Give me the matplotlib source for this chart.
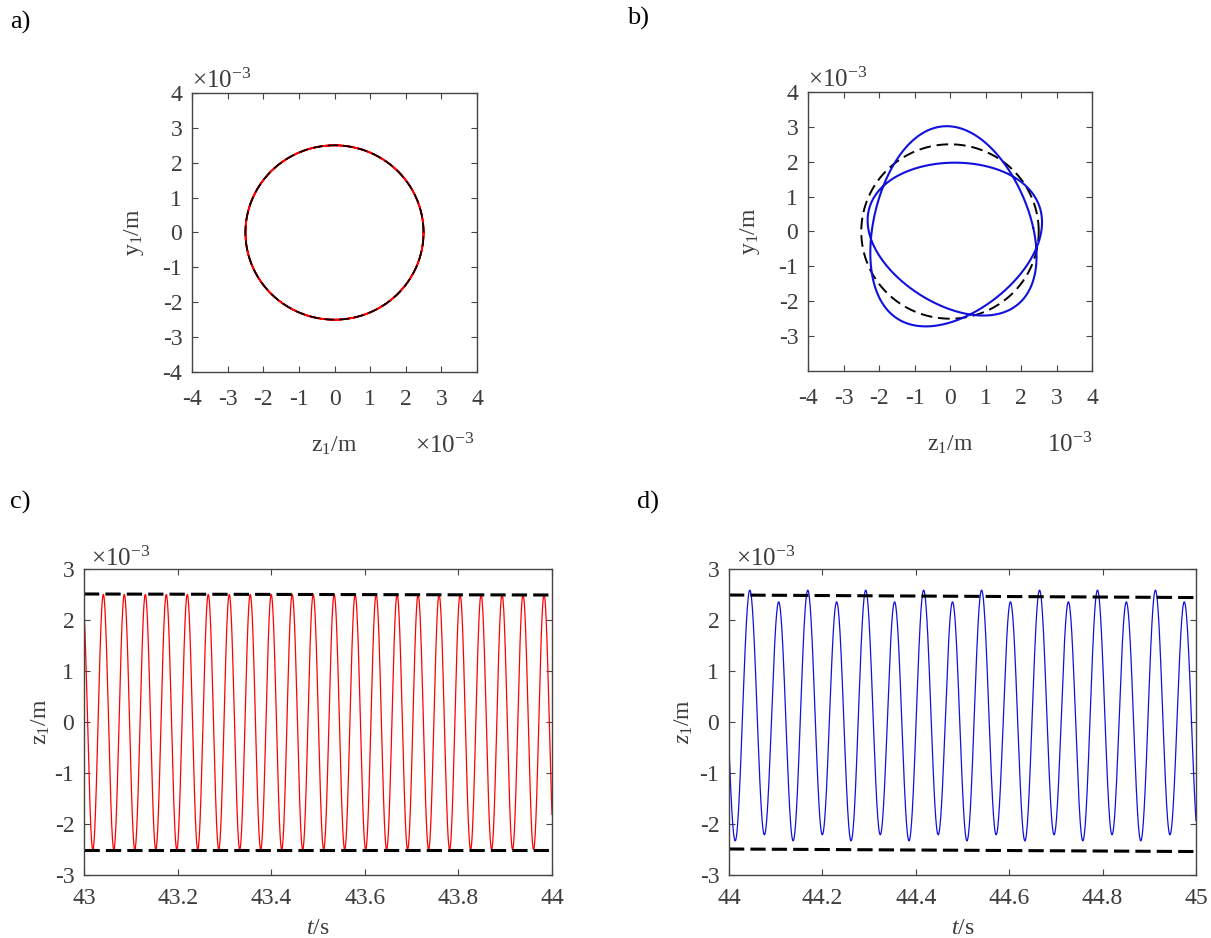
import numpy as np
import matplotlib
matplotlib.use("Agg")
import matplotlib.pyplot as plt

plt.rcParams["font.family"] = ["Liberation Serif", "DejaVu Serif"]
plt.rcParams["mathtext.fontset"] = "custom"
plt.rcParams["mathtext.rm"] = "Liberation Serif"
plt.rcParams["mathtext.it"] = "Liberation Serif:italic"
plt.rcParams["axes.unicode_minus"] = False

TXT = "#3c3c3c"
EDGE = "#454545"

# response harmonics, units 1e-3 m
# order: const, cos(th/2), sin(th/2), cos(th), sin(th), cos(3th/2), sin(3th/2)
orbit_a_z = [0.0, 0.0, 0.0, 2.5, 0.0, 0.0, 0.0]
orbit_a_y = [0.0, 0.0, 0.0, 0.0, 2.5, 0.0, 0.0]
orbit_b_z = [0.09, 0.09, -0.267, 2.35, -0.03, -0.186, -0.307]
orbit_b_y = [-0.03, 0.31, 0.08, 0.0, 2.525, -0.17, 0.18]
ref_radius = 2.5

# time histories of z1
t_c = [43.0, 44.0]
freq_c = 22.3          # Hz
t_peak_c = 43.0413     # first crest after 43 s
z_c = [0.0, 0.0, 0.0, 2.5, 0.0, 0.0, 0.0]
bound_c_up = [2.51, 2.49]
bound_c_lo = [-2.51, -2.51]

t_d = [44.0, 45.0]
freq_d = 16.12
t_peak_d = 44.0445
z_d = [0.10, 0.115, 0.06, 2.37, 0.0, 0.0, 0.0]
bound_d_up = [2.49, 2.44]
bound_d_lo = [-2.49, -2.54]

orbit_ticks = [-4, -3, -2, -1, 0, 1, 2, 3, 4]
time_yticks = [-3, -2, -1, 0, 1, 2, 3]


def harmonics(coef, th):
    """Sum of the half-order harmonic series."""
    basis = [np.ones_like(th), np.cos(th / 2), np.sin(th / 2), np.cos(th),
             np.sin(th), np.cos(1.5 * th), np.sin(1.5 * th)]
    return sum(c * b for c, b in zip(coef, basis))


def style(ax, xpad):
    for sp in ax.spines.values():
        sp.set_color(EDGE)
        sp.set_linewidth(1.0)
    ax.tick_params(direction="in", top=True, right=True, length=4,
                   width=0.8, color=EDGE, labelcolor=TXT, labelsize=17)
    ax.tick_params(axis="x", pad=xpad)
    ax.tick_params(axis="y", pad=7)


def exp_label(ax, x, y, s, ha="left", va="bottom"):
    ax.text(x, y, s, transform=ax.transAxes, ha=ha, va=va, fontsize=18,
            color=TXT)


fig = plt.figure(figsize=(12.11, 9.38), dpi=100)
W, H = 1211, 938


def add_axes(x0, y0, x1, y1):
    return fig.add_axes([x0 / W, 1 - y1 / H, (x1 - x0) / W, (y1 - y0) / H])


th = np.linspace(0, 4 * np.pi, 2000)
circ = np.linspace(0, 2 * np.pi, 400)

# a) synchronous whirl
ax = add_axes(192, 93, 477, 372)
ax.plot(harmonics(orbit_a_z, th), harmonics(orbit_a_y, th), color="red", lw=1.3)
ax.plot(ref_radius * np.cos(circ), ref_radius * np.sin(circ), color="black",
        lw=1.2, ls=(0, (6, 3)))
ax.set_xlim(-4, 4)
ax.set_ylim(-4, 4)
ax.set_xticks(orbit_ticks)
ax.set_yticks(orbit_ticks)
style(ax, 12)
ax.set_xlabel("z$_1$/m", fontsize=17, color=TXT, labelpad=18)
ax.set_ylabel("y$_1$/m", fontsize=17, color=TXT, labelpad=12)
exp_label(ax, 0.0, 1.0, r"×10$^{-3}$")
exp_label(ax, 0.99, -0.31, r"×10$^{-3}$", ha="right")

# b) period-2 whirl
ax = add_axes(808, 92, 1092, 371)
ax.plot(ref_radius * np.cos(circ), ref_radius * np.sin(circ), color="black",
        lw=1.4, ls=(0, (6, 3)))
ax.plot(harmonics(orbit_b_z, th), harmonics(orbit_b_y, th), color="#1010dd",
        lw=1.5)
ax.set_xlim(-4, 4)
ax.set_ylim(-4, 4)
ax.set_xticks(orbit_ticks)
ax.set_yticks(orbit_ticks[1:])
style(ax, 12)
ax.set_xlabel("z$_1$/m", fontsize=17, color=TXT, labelpad=18)
ax.set_ylabel("y$_1$/m", fontsize=17, color=TXT, labelpad=12)
exp_label(ax, 0.0, 1.0, r"×10$^{-3}$")
exp_label(ax, 1.0, -0.31, r"10$^{-3}$", ha="right")

# c) and d) displacement histories
panels = [
    ((84, 569, 552, 875), t_c, freq_c, t_peak_c, z_c, bound_c_up, bound_c_lo,
     "red", "z$_1$/m", 2),
    ((729, 569, 1196, 875), t_d, freq_d, t_peak_d, z_d, bound_d_up, bound_d_lo,
     "#1010dd", "$z_1$/m", 3),
]
for box, tr, f, tp, coef, up, lo, col, ylab, ypad in panels:
    ax = add_axes(*box)
    t = np.linspace(tr[0], tr[1], 4000)
    ph = 2 * np.pi * f * (t - tp)
    ax.plot(t, harmonics(coef, ph), color=col, lw=0.9)
    ax.plot(tr, up, color="black", lw=2.2, ls=(0, (5, 2)))
    ax.plot(tr, lo, color="black", lw=2.2, ls=(0, (5, 2)))
    ax.set_xlim(tr)
    ax.set_ylim(-3, 3)
    xt = np.round(np.linspace(tr[0], tr[1], 6), 1)
    ax.set_xticks(xt)
    ax.set_xticklabels(["%g" % v for v in xt])
    ax.set_yticks(time_yticks)
    style(ax, 9)
    ax.set_xlabel("$t$/s", fontsize=17, color=TXT, labelpad=7)
    ax.set_ylabel(ylab, fontsize=17, color=TXT, labelpad=ypad)
    exp_label(ax, 0.015, 0.995, r"×10$^{-3}$")

for lab, x, y in [("a)", 10, 22), ("b)", 627, 18), ("c)", 10, 502),
                  ("d)", 637, 502)]:
    fig.text(x / W, 1 - y / H, lab, fontsize=19, color="black", va="center")

fig.savefig("out.png", dpi=100)
